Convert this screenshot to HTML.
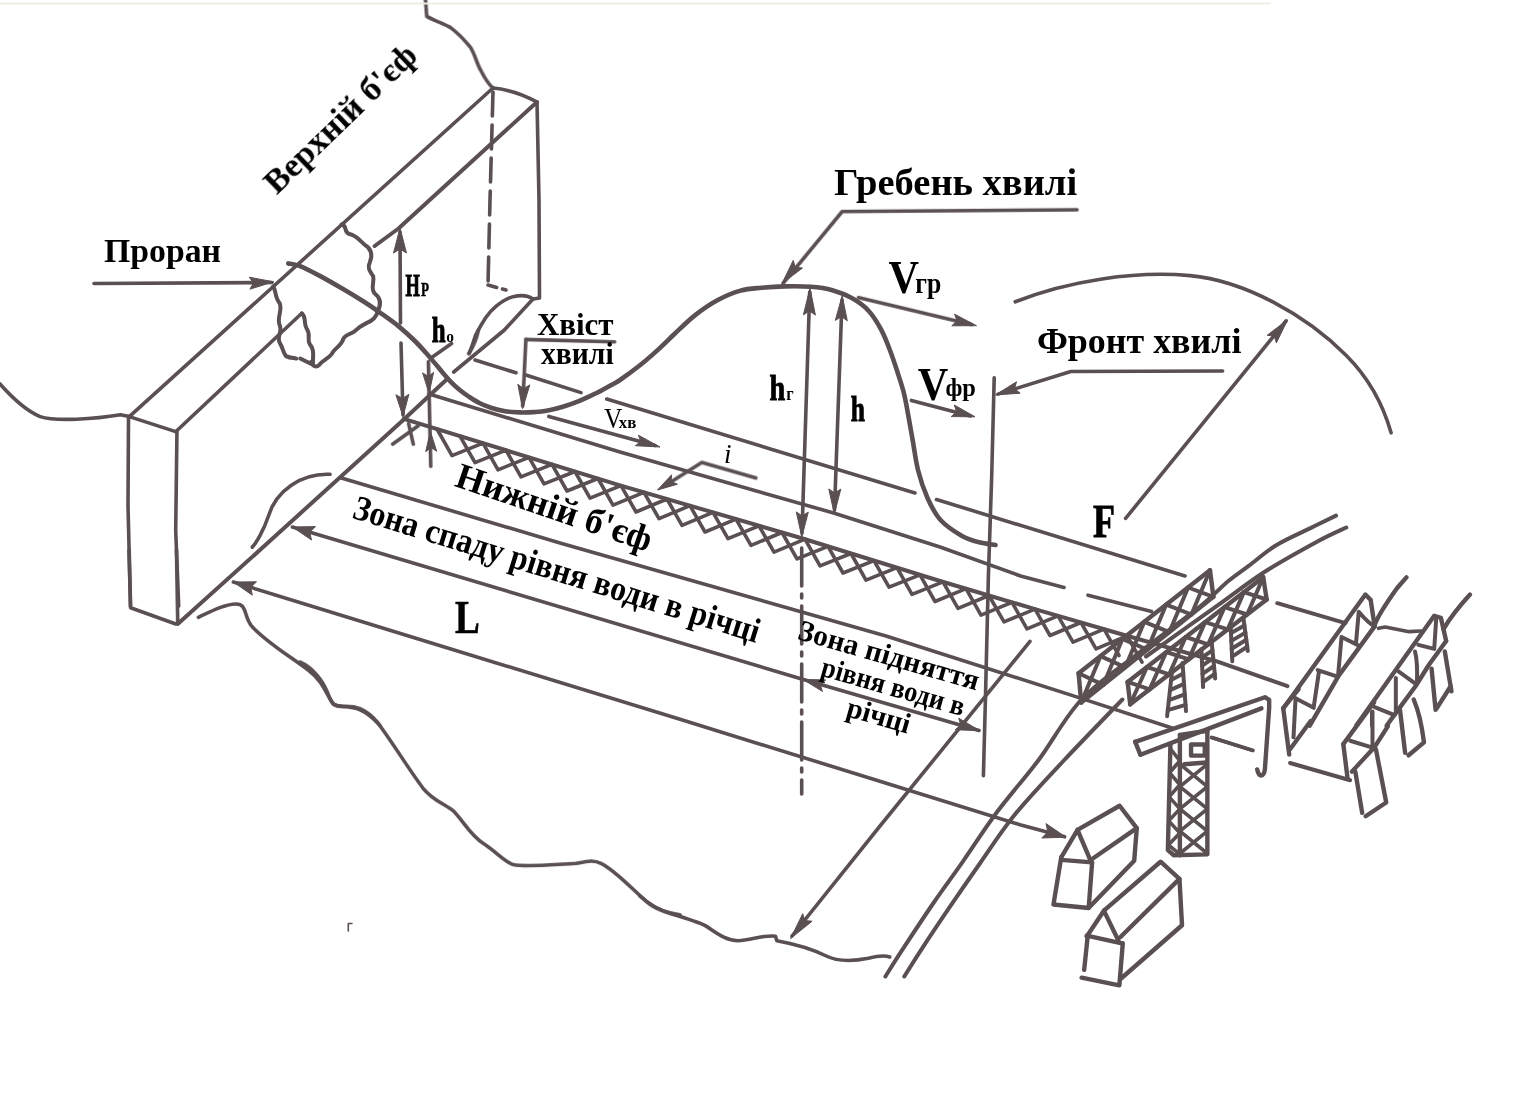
<!DOCTYPE html>
<html><head><meta charset="utf-8"><title>Dam-break wave diagram</title>
<style>html,body{margin:0;padding:0;background:#fff}svg{display:block}text{font-family:"Liberation Serif",serif;fill:#000}</style></head><body>
<svg width="1514" height="1102" viewBox="0 0 1514 1102">
<rect width="1514" height="1102" fill="#ffffff"/>
<defs><filter id="soft" filterUnits="userSpaceOnUse" x="0" y="0" width="1514" height="1102"><feGaussianBlur stdDeviation="0.45"/></filter></defs>
<g filter="url(#soft)">
<g fill="none" stroke="#5a4f51" stroke-linecap="round" stroke-linejoin="round">
<g transform="translate(0,330) scale(0.25099)">
<path d="M0,215 C40,260 100,320 160,345 C220,365 380,355 480,338 L515,345" stroke-width="14.3" />
<path d="M515,345 L700,405" stroke-width="14.3" />
<path d="M512,345 L510,700 L520,1100" stroke-width="14.3" />
<path d="M705,405 L700,800 L712,1100" stroke-width="14.3" />
<path d="M1315,575 C1200,570 1100,640 1070,740 C1050,800 1020,850 1005,865" stroke-width="14.3" />
</g>
<g transform="translate(300,0) scale(0.25099)">
<path d="M500,0 L505,65 C540,85 575,95 600,110 C640,140 660,165 680,190 C700,225 705,255 720,280 C735,310 750,335 770,352" stroke-width="14.3" />
</g>
<g transform="translate(0,550) scale(0.25099)">
<path d="M514,0 L520,230 L700,295 L708,290" stroke-width="14.3" />
<path d="M703,0 L708,290" stroke-width="14.3" />
<path d="M790,268 C850,240 900,215 940,215 C985,215 970,260 1000,300 C1050,360 1150,420 1230,480 C1290,525 1300,580 1330,615 C1370,635 1430,600 1514,700" stroke-width="14.3" />
</g>
<g transform="translate(360,200) scale(0.25099)">
<path d="M690,395 C670,380 640,378 610,385 C560,400 520,440 500,470 C480,500 470,520 460,540 C450,570 445,590 435,610" stroke-width="14.3" />
</g>
<g transform="translate(300,640) scale(0.25099)">
<path d="M0,88 C50,110 90,160 110,210 C125,250 130,265 170,265 C220,262 260,270 310,330 C370,410 430,510 490,590 C530,640 580,655 610,680 C650,720 680,780 730,810 C790,850 810,880 850,895 C900,905 1000,895 1100,890 C1150,880 1170,875 1200,890 C1260,920 1330,1000 1390,1050 C1430,1080 1480,1090 1514,1095" stroke-width="14.3" />
</g>
<g transform="translate(640,780) scale(0.25099)">
<path d="M0,462 C40,500 80,520 130,535 C180,550 230,565 260,580 C300,605 340,640 390,640 C440,640 490,615 540,622 L545,640 C600,650 680,670 740,700 C790,725 860,720 910,710 C950,700 980,700 995,705" stroke-width="14.3" />
</g>
<g transform="translate(240,200) scale(0.15852)">
<path d="M640,155 C680,160 650,200 690,215 C730,220 760,260 790,285 C830,310 835,350 820,390 C800,430 820,450 840,480 C850,520 820,560 850,590 C890,620 890,660 870,700 C860,740 840,760 800,775 C770,790 740,810 720,830 C690,850 660,850 650,880 C640,920 590,940 580,970 C560,1000 520,1010 500,1040 C480,1060 460,1050 450,1020" stroke-width="25.2" />
<path d="M210,545 C230,580 220,620 250,650 C270,700 230,740 250,790 C270,830 230,860 250,900 C270,930 270,960 290,985 C320,1000 340,995 355,1000" stroke-width="25.2" />
<path d="M380,1000 L450,1035" stroke-width="25.2" />
<path d="M390,715 C420,740 400,780 420,810 C450,850 420,880 440,910 C470,940 460,980 460,1030" stroke-width="25.2" />
<path d="M1335,905 L1200,1000" stroke-width="22.7" />
</g>
<g transform="translate(380,330) scale(0.15852)">
<path d="M305,200 L320,860" stroke-width="22.7" />
<path d="M80,720 L240,605" stroke-width="22.7" />
<path d="M180,590 L210,720" stroke-width="22.7" />
<path d="M920,60 L1480,75" stroke-width="22.7" />
<path d="M920,60 L900,480" stroke-width="22.7" />
<path d="M620,0 C610,60 590,100 560,150" stroke-width="22.7" />
</g>
<g transform="translate(560,360) scale(0.25099)">
<path d="M780,470 L565,408 L420,500" stroke-width="14.3" />
</g>
<g transform="translate(620,140) scale(0.25099)">
<path d="M1821,278 L885,285 L650,570" stroke-width="14.3" />
<path d="M950,628 L1400,735" stroke-width="14.3" />
</g>
<g transform="translate(880,300) scale(0.25099)">
<path d="M125,400 L360,462" stroke-width="14.3" />
<path d="M1365,283 L760,285 L470,375" stroke-width="14.3" />
</g>
<g transform="translate(1000,240) scale(0.33950)">
<path d="M45,182 C200,120 400,90 560,105 C720,120 900,220 1020,340 C1090,410 1130,490 1152,568" stroke-width="10.6" />
</g>
<g transform="translate(1270,580) scale(0.13245)">
<path d="M100,970 L720,110 L760,150 L790,350" stroke-width="33.2" />
<path d="M790,350 L520,720 L300,1100" stroke-width="33.2" />
<path d="M670,240 C720,300 750,330 790,350 M670,240 L650,470 M540,430 L660,490 M540,430 L515,710 M360,680 L510,730 M370,690 L330,960 M195,895 L330,965" stroke-width="30.2" />
<path d="M55,175 L570,325" stroke-width="30.2" />
<path d="M790,340 C810,280 860,200 960,60 L1030,-20" stroke-width="33.2" />
<path d="M820,365 L870,355 L1050,390 L1140,385" stroke-width="27.2" />
<path d="M650,1100 L1240,270 L1290,285 L1330,460" stroke-width="33.2" />
<path d="M1330,460 L1200,640 L1100,800 L960,990 L880,1100" stroke-width="33.2" />
<path d="M1255,290 L1240,520 M1120,490 L1240,520 M1095,540 C1110,600 1112,700 1110,760 M970,690 L1095,780 M950,740 L950,990 M790,960 L940,1020 M770,1000 L770,1100" stroke-width="30.2" />
<path d="M1310,370 C1340,320 1400,230 1510,110" stroke-width="33.2" />
<path d="M1320,540 L1370,840 M1220,670 L1250,980 M1365,800 L1255,975" stroke-width="33.2" />
</g>
<g transform="translate(1254,660) scale(0.17173)">
<path d="M170,280 L205,550" stroke-width="25.6" />
<path d="M170,280 L260,170" stroke-width="25.6" />
<path d="M210,520 L330,355" stroke-width="25.6" />
<path d="M242,222 L230,450" stroke-width="23.3" />
<path d="M210,600 L560,700" stroke-width="23.3" />
<path d="M520,490 L545,690" stroke-width="25.6" />
<path d="M520,490 L700,245" stroke-width="25.6" />
<path d="M570,650 L700,510 L780,385" stroke-width="25.6" />
<path d="M690,300 L690,510 M560,470 L690,510" stroke-width="23.3" />
<path d="M590,650 L630,890 M710,520 L770,830 L650,910" stroke-width="25.6" />
<path d="M850,290 L880,540 M930,230 C960,300 980,400 990,480 L900,555" stroke-width="25.6" />
</g>
<g transform="translate(1100,680) scale(0.17173)">
<path d="M205,360 L960,100 L985,115 L985,160 L960,520 C955,565 925,570 915,520" stroke-width="25.6" />
<path d="M235,435 L940,165" stroke-width="25.6" />
<path d="M205,360 L235,435" stroke-width="25.6" />
<path d="M410,370 L395,990 L430,1020 L625,1015 L625,290" stroke-width="25.6" />
<path d="M465,320 L465,1020" stroke-width="25.6" />
<path d="M465,320 L625,295" stroke-width="25.6" />
<path d="M530,375 L610,375 L610,440 L530,440 Z" stroke-width="25.6" />
<path d="M490,490 L620,480" stroke-width="25.6" />
<path d="M465,490 L625,620 M625,490 L465,620 M465,620 L625,750 M625,620 L465,750 M465,750 L625,880 M625,750 L465,880 M465,880 L625,1010 M625,880 L465,1010" stroke-width="21.0" />
<path d="M410,400 L465,470 L405,540 L465,610 L402,680 L465,750 L400,820 L465,890 L398,960 L465,1015" stroke-width="21.0" />
<path d="M650,335 L890,410" stroke-width="21.0" />
</g>
<g transform="translate(1020,780) scale(0.17173)">
<path d="M240,450 L335,290 L415,480" stroke-width="25.6" />
<path d="M240,450 L195,725 L400,745 L420,480" stroke-width="25.6" />
<path d="M240,465 L420,480" stroke-width="25.6" />
<path d="M335,290 L580,150 L680,280 L420,460" stroke-width="25.6" />
<path d="M680,280 L665,470 L405,740" stroke-width="25.6" />
</g>
<g transform="translate(1000,860) scale(0.17173)">
<path d="M505,445 L605,295 L690,470" stroke-width="25.6" />
<path d="M505,440 L710,485" stroke-width="25.6" />
<path d="M510,450 L490,640" stroke-width="25.6" />
<path d="M475,685 L695,730 L715,485" stroke-width="25.6" />
<path d="M605,295 L935,10 L1045,110 L700,450" stroke-width="25.6" />
<path d="M1045,110 L1060,380 L705,690" stroke-width="25.6" />
</g>
<path d="M129.3,416.6 L493.0,88.0" stroke-width="3.6" />
<path d="M537.0,102.0 L398.5,228.5 L374.7,246.0" stroke-width="4.0" />
<path d="M301.8,313.3 L175.7,431.7" stroke-width="3.6" />
<path d="M493,88 Q515,90 537,102" stroke-width="3.6" />
<path d="M177.7,624.0 L261.0,549.0 L403.8,419.6 L446.6,379.5" stroke-width="4.0" />
<path d="M453.7,372.0 L504.4,330.0 L533.0,299.0" stroke-width="3.6" />
<path d="M537.0,102.0 L539.0,200.0 L539.5,298.0 L533.0,299.0" stroke-width="3.6" />
<path d="M493,92 L490,200 L488,285" stroke-width="3.6" stroke-dasharray="24 9"/>
<path d="M488,285 L506,290" stroke-width="3.6" stroke-dasharray="9 6"/>
<path d="M94.0,283.5 L272.0,282.5" stroke-width="3.6" />
<path d="M400.0,232.0 L400.5,323.0" stroke-width="3.6" />
<path d="M401.0,343.0 L403.0,415.0" stroke-width="3.6" />
<path d="M475.0,360.0 L516.0,372.8" stroke-width="3.6" />
<path d="M525.8,375.0 L581.0,392.6" stroke-width="3.6" />
<path d="M606.7,399.0 L915.0,493.0" stroke-width="3.6" />
<path d="M936.5,499.5 L1185.0,576.0" stroke-width="3.6" />
<path d="M429.0,394.0 L620.0,452.0 L833.6,513.0 L940.0,547.0 L1020.6,576.0 L1064.0,587.5" stroke-width="3.6" />
<path d="M1088.0,595.2 L1151.6,611.5" stroke-width="3.6" />
<path d="M403.8,418.8 L620.0,485.3 L801.0,538.0 L940.0,581.0 L1040.0,610.6 L1125.9,635.5 L1216.9,661.3 L1287.5,686.2" stroke-width="4.0" />
<path d="M341.4,478.0 L560.0,543.0 L886.0,636.0 L1075.8,696.6 L1172.0,728.0" stroke-width="3.6" />
<path d="M1211.6,737.5 L1252.8,750.4" stroke-width="3.6" />
<path d="M292.4,527.0 L801.7,679.0 L979.0,730.5" stroke-width="3.6" />
<path d="M233.4,582.0 L416.7,638.5 L680.0,719.3 L871.0,778.5 L1020.0,824.7 L1064.6,836.8" stroke-width="3.6" />
<path d="M548.8,416.4 L655.0,445.5" stroke-width="3.6" />
<path d="M437.0,429.0 L452.0,455.6 L483.0,443.2 L498.0,469.8 L529.0,457.3 L544.0,483.9 L575.0,471.5 L590.0,498.1 L621.0,485.6 L636.0,512.0 L667.0,499.0 L682.0,525.4 L713.0,512.4 L728.0,538.7 L759.0,525.8 L774.0,552.1 L805.0,539.2 L820.0,565.9 L851.0,553.5 L866.0,580.1 L897.0,567.7 L912.0,594.3 L943.0,581.9 L958.0,608.3 L989.0,595.5 L1004.0,621.9 L1035.0,609.1 L1050.0,635.5 L1081.0,622.5 L1096.0,648.8 L1127.0,635.8 L1142.0,662.1" stroke-width="3.6" />
<path d="M460.0,436.1 L475.0,462.7 L506.0,450.2 L521.0,476.8 L552.0,464.4 L567.0,491.0 L598.0,478.5 L613.0,505.1 L644.0,492.3 L659.0,518.7 L690.0,505.7 L705.0,532.0 L736.0,519.1 L751.0,545.4 L782.0,532.5 L797.0,558.8 L828.0,546.4 L843.0,573.0 L874.0,560.6 L889.0,587.2 L920.0,574.8 L935.0,601.5 L966.0,588.7 L981.0,615.1 L1012.0,602.3 L1027.0,628.8 L1058.0,615.8 L1073.0,642.2 L1104.0,629.2 L1119.0,655.5" stroke-width="3.6" />
<path d="M994.2,377.8 L991.7,475.7 L988.4,576.0 L985.4,700.0 L983.4,775.7" stroke-width="3.6" />
<path d="M809.7,292.0 L802.0,533.0" stroke-width="3.6" />
<path d="M842.0,300.0 L834.5,510.0" stroke-width="3.6" />
<path d="M801.7,548 L801.7,794" stroke-width="3.6" stroke-dasharray="38 8 4 8"/>
<path d="M1125.6,518.4 L1286.0,321.0" stroke-width="3.6" />
<path d="M1030.0,641.4 L880.0,826.0 L792.0,936.0" stroke-width="3.6" />
<path d="M288.3,263.4 C290.1,263.8 294.1,263.7 299.4,265.8 C304.7,267.9 313.2,272.3 320.3,276.1 C327.4,279.9 335.0,284.3 342.2,288.5 C349.4,292.7 357.0,297.3 363.6,301.5 C370.2,305.7 375.9,309.7 381.7,313.8 C387.5,317.9 392.9,321.7 398.4,326.1 C403.8,330.6 409.8,336.0 414.4,340.5 C419.0,345.0 422.5,349.0 426.1,353.0 C429.7,357.0 432.9,360.9 436.0,364.5 C439.1,368.1 441.9,371.8 444.5,374.8 C447.1,377.8 448.7,379.7 451.3,382.3 C453.9,384.9 457.2,387.9 460.1,390.3 C463.0,392.7 465.6,394.5 468.8,396.6 C472.0,398.7 475.6,401.1 479.3,403.0 C483.0,404.9 486.7,406.3 491.0,407.7 C495.3,409.1 500.4,410.4 505.2,411.2 C509.9,412.0 514.8,412.2 519.5,412.4 C524.2,412.5 529.1,412.4 533.6,412.1 C538.1,411.8 541.5,411.7 546.4,410.8 C551.3,409.9 557.6,408.3 562.9,406.7 C568.2,405.1 573.7,403.1 578.2,401.3 C582.7,399.5 586.0,398.0 590.0,396.1 C594.0,394.2 598.4,392.1 601.9,390.2 C605.4,388.3 608.3,386.7 611.3,385.0 C614.3,383.3 615.3,383.2 620.0,380.0 C624.7,376.8 633.0,370.8 639.3,365.8 C645.6,360.8 651.6,355.5 657.6,350.1 C663.6,344.7 668.9,339.2 675.2,333.3 C681.5,327.4 688.5,320.4 695.5,314.9 C702.5,309.4 709.4,304.6 716.9,300.5 C724.4,296.4 733.1,292.7 740.5,290.6 C747.9,288.5 754.1,288.4 761.5,287.7 C768.9,287.0 776.5,286.5 784.7,286.4 C792.9,286.2 802.8,286.2 810.8,286.8 C818.8,287.4 825.6,288.3 832.4,290.2 C839.2,292.1 845.8,294.7 851.8,298.1 C857.8,301.5 863.6,305.4 868.5,310.7 C873.4,316.0 877.6,322.9 881.3,329.9 C885.0,336.9 887.8,344.4 890.8,352.5 C893.8,360.6 897.1,370.8 899.5,378.4 C901.9,386.0 902.9,388.0 905.0,397.9 C907.1,407.8 910.1,426.0 912.3,438.0 C914.5,450.0 915.5,460.0 918.0,470.0 C920.5,480.0 923.8,489.7 927.5,498.0 C931.2,506.3 934.8,513.7 940.5,520.0 C946.2,526.3 955.2,532.0 961.6,535.7 C968.0,539.4 973.5,540.8 979.1,542.3 C984.8,543.8 992.8,544.5 995.5,545.0" stroke-width="4.6" />
<path d="M1336.0,515.6 C1331.8,517.7 1320.5,523.2 1310.5,528.1 C1300.5,533.0 1286.5,538.9 1276.2,545.2 C1265.9,551.5 1256.7,559.9 1248.7,565.9 C1240.7,571.9 1236.0,574.6 1228.0,581.3 C1220.0,588.0 1215.3,594.2 1200.6,606.0 C1185.9,617.8 1159.8,636.4 1140.0,652.0 C1120.2,667.6 1098.4,681.5 1081.5,699.5 C1064.6,717.5 1052.6,741.3 1038.6,760.0 C1024.6,778.7 1010.0,794.6 997.4,811.5 C984.8,828.4 973.6,846.1 963.0,861.3 C952.4,876.5 943.8,887.9 933.8,902.5 C923.8,917.1 911.0,936.6 902.9,948.9 C894.8,961.2 888.3,971.9 885.4,976.5" stroke-width="4.0" />
<path d="M1346.3,527.5 C1341.5,529.8 1331.0,534.1 1317.4,541.5 C1303.8,548.9 1281.5,561.0 1264.8,571.7 C1248.1,582.4 1237.1,591.5 1217.3,605.6 C1197.5,619.7 1157.9,648.0 1146.0,656.5" stroke-width="4.0" />
<path d="M1122.4,699.5 C1112.7,709.6 1082.3,740.8 1064.3,760.0 C1046.3,779.2 1028.5,797.8 1014.5,815.0 C1000.5,832.2 991.1,847.5 980.2,863.0 C969.3,878.5 959.0,893.4 949.3,907.7 C939.6,922.0 929.3,937.4 921.8,948.9 C914.3,960.4 907.2,971.9 904.3,976.5" stroke-width="4.0" />
<path d="M1078.6,673.3 L1210.0,570.3" stroke-width="4.4" />
<path d="M1081.2,702.5 L1213.4,596.9" stroke-width="4.4" />
<path d="M1078.6,673.3 L1081.2,702.5" stroke-width="4.4" />
<path d="M1210.0,570.3 L1213.4,596.9" stroke-width="4.4" />
<path d="M1078.6,673.3 L1103.3,684.9" stroke-width="4.0" />
<path d="M1081.2,702.5 L1100.5,656.2" stroke-width="4.0" />
<path d="M1100.5,656.2 L1125.3,667.3" stroke-width="4.0" />
<path d="M1103.3,684.9 L1122.4,639.0" stroke-width="4.0" />
<path d="M1122.4,639.0 L1147.3,649.7" stroke-width="4.0" />
<path d="M1125.3,667.3 L1144.3,621.8" stroke-width="4.0" />
<path d="M1144.3,621.8 L1169.4,632.1" stroke-width="4.0" />
<path d="M1147.3,649.7 L1166.2,604.6" stroke-width="4.0" />
<path d="M1166.2,604.6 L1191.4,614.5" stroke-width="4.0" />
<path d="M1169.4,632.1 L1188.1,587.5" stroke-width="4.0" />
<path d="M1188.1,587.5 L1213.4,596.9" stroke-width="4.0" />
<path d="M1191.4,614.5 L1210.0,570.3" stroke-width="4.0" />
<path d="M1127.6,681.9 L1263.2,577.2" stroke-width="4.4" />
<path d="M1130.2,704.3 L1266.7,599.5" stroke-width="4.4" />
<path d="M1127.6,681.9 L1130.2,704.3" stroke-width="4.4" />
<path d="M1263.2,577.2 L1266.7,599.5" stroke-width="4.4" />
<path d="M1127.6,681.9 L1149.7,689.3" stroke-width="4.0" />
<path d="M1130.2,704.3 L1147.0,667.0" stroke-width="4.0" />
<path d="M1147.0,667.0 L1169.2,674.3" stroke-width="4.0" />
<path d="M1149.7,689.3 L1166.3,652.0" stroke-width="4.0" />
<path d="M1166.3,652.0 L1188.7,659.4" stroke-width="4.0" />
<path d="M1169.2,674.3 L1185.7,637.0" stroke-width="4.0" />
<path d="M1185.7,637.0 L1208.2,644.4" stroke-width="4.0" />
<path d="M1188.7,659.4 L1205.1,622.1" stroke-width="4.0" />
<path d="M1205.1,622.1 L1227.7,629.4" stroke-width="4.0" />
<path d="M1208.2,644.4 L1224.5,607.1" stroke-width="4.0" />
<path d="M1224.5,607.1 L1247.2,614.5" stroke-width="4.0" />
<path d="M1227.7,629.4 L1243.9,592.1" stroke-width="4.0" />
<path d="M1243.9,592.1 L1266.7,599.5" stroke-width="4.0" />
<path d="M1247.2,614.5 L1263.2,577.2" stroke-width="4.0" />
<path d="M1172.2,669.9 L1167.1,716.3" stroke-width="4.0" />
<path d="M1182.5,663.0 L1186.0,711.1" stroke-width="4.0" />
<path d="M1171.1,680.0 L1183.3,673.5" stroke-width="4.0" />
<path d="M1170.0,690.1 L1184.0,683.9" stroke-width="4.0" />
<path d="M1168.9,700.1 L1184.8,694.4" stroke-width="4.0" />
<path d="M1167.8,710.2 L1185.5,704.9" stroke-width="4.0" />
<path d="M1201.4,649.3 L1203.1,687.1" stroke-width="4.0" />
<path d="M1211.7,642.4 L1215.2,678.5" stroke-width="4.0" />
<path d="M1201.8,657.5 L1212.5,650.3" stroke-width="4.0" />
<path d="M1202.2,665.7 L1213.2,658.1" stroke-width="4.0" />
<path d="M1202.5,673.9 L1214.0,666.0" stroke-width="4.0" />
<path d="M1202.9,682.2 L1214.7,673.8" stroke-width="4.0" />
<path d="M1230.6,625.3 L1232.3,661.3" stroke-width="4.0" />
<path d="M1243.5,618.4 L1247.8,651.0" stroke-width="4.0" />
<path d="M1231.0,633.1 L1244.4,625.5" stroke-width="4.0" />
<path d="M1231.4,640.9 L1245.4,632.6" stroke-width="4.0" />
<path d="M1231.7,648.8 L1246.3,639.7" stroke-width="4.0" />
<path d="M1232.1,656.6 L1247.2,646.8" stroke-width="4.0" />
<path d="M348.3,931.0 L348.3,923.5 L352.0,923.5" stroke-width="1.6" />
<path d="M0,3.5 L1270,3.5" stroke-width="2.0" stroke="#eeede6"/>
</g>
<g fill="#5a4f51" stroke="#5a4f51" stroke-width="1" stroke-linejoin="round">
<polygon points="273.5,281.8 249.9,289.2 253.5,282.9 249.2,277.2"/>
<polygon points="400.0,228.0 406.5,253.0 400.0,249.0 393.5,253.0"/>
<polygon points="403.0,416.5 395.9,394.7 402.5,398.5 408.9,394.3"/>
<polygon points="429.1,393.5 422.6,372.8 428.3,376.5 433.6,372.3"/>
<polygon points="430.4,431.5 436.7,451.3 431.1,447.5 425.7,451.7"/>
<polygon points="522.6,408.6 517.8,384.3 523.6,388.6 529.8,384.9"/>
<polygon points="292.4,527.0 315.5,526.6 309.7,532.1 311.5,540.0"/>
<polygon points="803.0,679.4 825.8,679.9 820.3,684.5 822.4,691.4"/>
<polygon points="980.0,730.8 955.3,729.7 960.8,725.1 958.7,718.2"/>
<polygon points="233.4,582.0 256.5,581.8 250.6,587.3 252.3,595.2"/>
<polygon points="1066.0,837.2 1041.8,838.0 1047.8,831.9 1046.0,823.6"/>
<polygon points="660.0,447.0 635.4,445.7 640.8,441.5 638.4,435.2"/>
<polygon points="657.5,490.0 671.6,474.8 671.1,481.6 677.4,484.2"/>
<polygon points="782.0,283.5 793.2,260.4 795.3,267.3 802.5,268.0"/>
<polygon points="976.5,325.7 951.8,325.8 957.1,321.0 954.6,314.2"/>
<polygon points="975.0,416.8 951.2,416.6 956.7,411.9 954.3,405.0"/>
<polygon points="995.5,394.9 1016.5,381.8 1014.5,388.7 1020.2,393.2"/>
<polygon points="810.0,288.0 815.4,315.1 809.5,311.0 803.4,314.8"/>
<polygon points="801.8,537.0 796.3,511.9 802.2,516.0 808.3,512.1"/>
<polygon points="842.2,295.6 847.3,320.8 841.5,316.6 835.3,320.4"/>
<polygon points="834.3,514.0 828.8,488.9 834.7,493.0 840.8,489.1"/>
<polygon points="1287.6,319.8 1276.4,342.9 1274.3,336.0 1267.1,335.3"/>
<polygon points="790.6,938.6 802.7,913.7 804.9,920.6 812.1,921.2"/>
</g>
</g>
<text transform="translate(104.0,262.0) rotate(0)" font-size="34" font-weight="bold" font-style="normal" textLength="117.0" lengthAdjust="spacingAndGlyphs">Проран</text>
<text transform="translate(276.7,195.5) rotate(-44)" font-size="34.4" font-weight="bold" font-style="normal" textLength="198.0" lengthAdjust="spacingAndGlyphs">Верхній б'єф</text>
<text transform="translate(833.9,195.3) rotate(0)" font-size="38.5" font-weight="bold" font-style="normal" textLength="243.3" lengthAdjust="spacingAndGlyphs">Гребень хвилі</text>
<text transform="translate(1036.9,353.2) rotate(0)" font-size="36" font-weight="bold" font-style="normal" textLength="204.5" lengthAdjust="spacingAndGlyphs">Фронт хвилі</text>
<text transform="translate(536.9,335.0) rotate(0)" font-size="30.8" font-weight="bold" font-style="normal" textLength="76.7" lengthAdjust="spacingAndGlyphs">Хвіст</text>
<text transform="translate(541.0,363.6) rotate(0)" font-size="30.8" font-weight="bold" font-style="normal" textLength="72.6" lengthAdjust="spacingAndGlyphs">хвилі</text>
<text transform="translate(453.5,485.7) rotate(18.8)" font-size="36.3" font-weight="bold" font-style="normal" textLength="205.0" lengthAdjust="spacingAndGlyphs">Нижній б'єф</text>
<text transform="translate(351.0,517.6) rotate(17.2)" font-size="35" font-weight="bold" font-style="normal" textLength="424.0" lengthAdjust="spacingAndGlyphs">Зона спаду рівня води в річці</text>
<text transform="translate(455.0,633.2) rotate(0)" font-size="47.4" font-weight="bold" font-style="normal" textLength="24.8" lengthAdjust="spacingAndGlyphs" stroke="#000" stroke-width="0.6">L</text>
<text transform="translate(1093.0,537.0) rotate(0)" font-size="45.5" font-weight="bold" font-style="normal" textLength="22.0" lengthAdjust="spacingAndGlyphs" stroke="#000" stroke-width="0.8">F</text>
<text transform="translate(724.0,463.0) rotate(0)" font-size="27" font-weight="normal" font-style="italic">i</text>
<text transform="translate(888.5,293.4) rotate(0)" font-size="46" font-weight="bold" font-style="normal" textLength="30.5" lengthAdjust="spacingAndGlyphs">V</text>
<text transform="translate(915.3,293.4) rotate(0)" font-size="29" font-weight="bold" font-style="normal" textLength="26.0" lengthAdjust="spacingAndGlyphs">гр</text>
<text transform="translate(917.7,400.1) rotate(0)" font-size="46.6" font-weight="bold" font-style="normal" textLength="30.5" lengthAdjust="spacingAndGlyphs">V</text>
<text transform="translate(945.4,395.5) rotate(0)" font-size="25.4" font-weight="bold" font-style="normal" textLength="30.5" lengthAdjust="spacingAndGlyphs">фр</text>
<text transform="translate(604.0,428.4) rotate(0)" font-size="29.3" font-weight="normal" font-style="normal" textLength="18.4" lengthAdjust="spacingAndGlyphs">V</text>
<text transform="translate(618.7,428.4) rotate(0)" font-size="17" font-weight="bold" font-style="normal" textLength="17.6" lengthAdjust="spacingAndGlyphs">хв</text>
<text transform="translate(769.6,400.1) rotate(0)" font-size="36.5" font-weight="bold" font-style="normal" textLength="15.7" lengthAdjust="spacingAndGlyphs" stroke="#000" stroke-width="0.9">h</text>
<text transform="translate(786.3,400.1) rotate(0)" font-size="19.5" font-weight="bold" font-style="normal" textLength="7.4" lengthAdjust="spacingAndGlyphs">г</text>
<text transform="translate(850.7,421.4) rotate(0)" font-size="36.5" font-weight="bold" font-style="normal" textLength="14.2" lengthAdjust="spacingAndGlyphs" stroke="#000" stroke-width="0.9">h</text>
<text transform="translate(405.5,296.1) rotate(0)" font-size="30.8" font-weight="bold" font-style="normal" textLength="14.3" lengthAdjust="spacingAndGlyphs" stroke="#000" stroke-width="1.1">H</text>
<text transform="translate(421.0,296.1) rotate(0)" font-size="19" font-weight="bold" font-style="normal" textLength="8.0" lengthAdjust="spacingAndGlyphs" stroke="#000" stroke-width="0.5">Р</text>
<text transform="translate(431.8,342.4) rotate(0)" font-size="35" font-weight="bold" font-style="normal" textLength="13.9" lengthAdjust="spacingAndGlyphs" stroke="#000" stroke-width="0.9">h</text>
<text transform="translate(446.3,342.4) rotate(0)" font-size="17.6" font-weight="bold" font-style="normal" textLength="7.7" lengthAdjust="spacingAndGlyphs">о</text>
<text transform="translate(796.6,638.8) rotate(16)" font-size="29.5" font-weight="bold" font-style="normal" textLength="187.0" lengthAdjust="spacingAndGlyphs">Зона підняття</text>
<text transform="translate(819.6,675.3) rotate(16)" font-size="29" font-weight="bold" font-style="normal" textLength="148.0" lengthAdjust="spacingAndGlyphs">рівня води в</text>
<text transform="translate(845.0,715.7) rotate(16)" font-size="29" font-weight="bold" font-style="normal" textLength="65.0" lengthAdjust="spacingAndGlyphs">річці</text>
</svg></body></html>
